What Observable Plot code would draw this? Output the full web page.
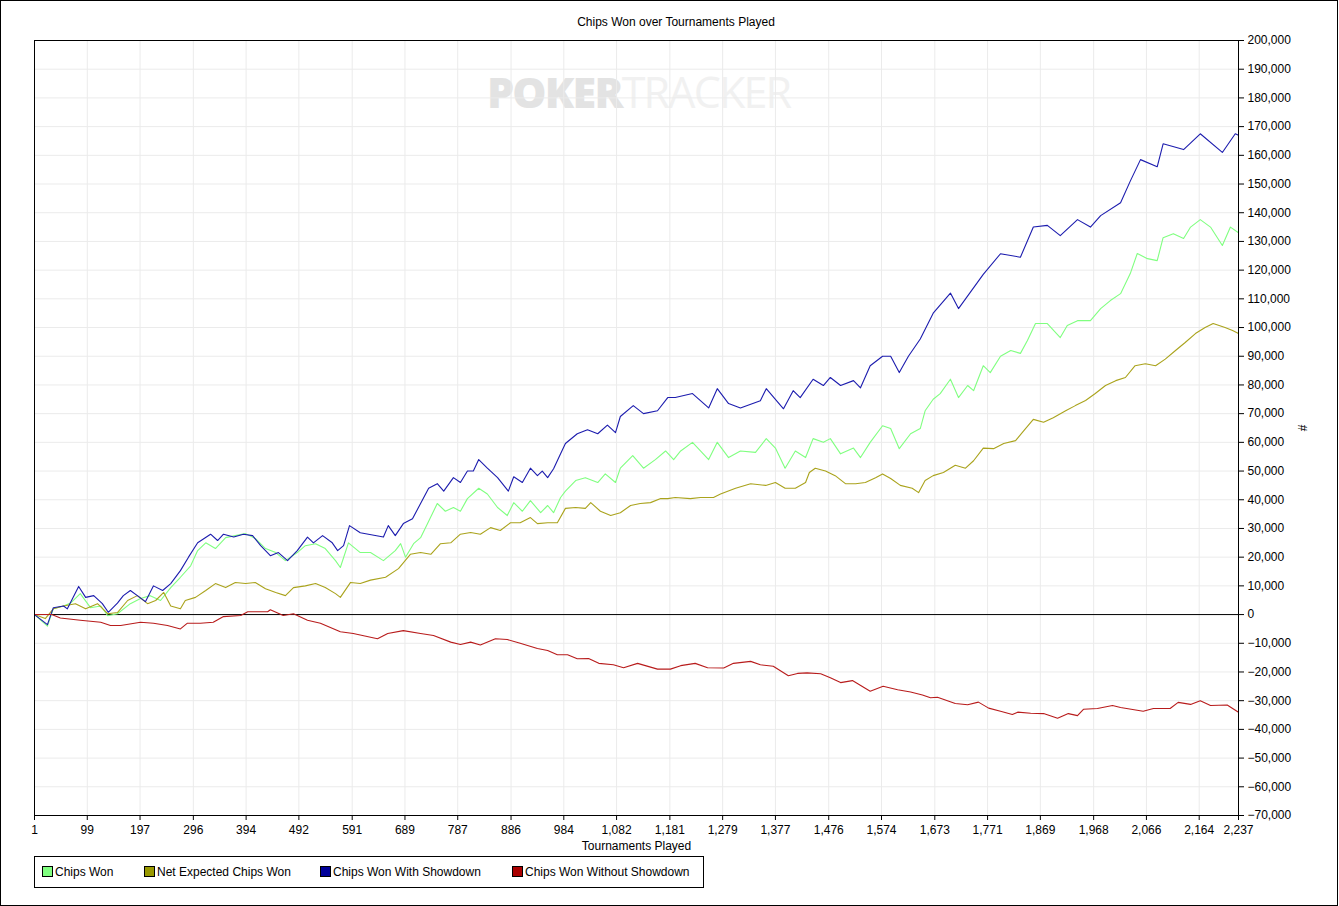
<!DOCTYPE html>
<html>
<head>
<meta charset="utf-8">
<script src="https://cdn.jsdelivr.net/npm/d3@7"></script>
<script src="https://cdn.jsdelivr.net/npm/@observablehq/plot@0.6"></script>
<style>
  html, body { margin: 0; padding: 0; background: #fff; }
  #wrap { position: relative; width: 1339px; height: 906px; font-family: "Liberation Sans", Arial, sans-serif; font-size: 12px; color: #000; overflow: hidden; }
  #border { position: absolute; left: 0; top: 0; width: 1338px; height: 906px; box-sizing: border-box; border: 1px solid #000; pointer-events: none; }
  #title { position: absolute; left: 0; top: 15px; width: 1352px; text-align: center; font-size: 12px; }
  #wm { position: absolute; left: 487px; top: 62px; font-family: "Open Sans", sans-serif; font-size: 43px; letter-spacing: -1.8px; white-space: nowrap; }
  #wm .a { font-weight: 800; color: #e3e3e3; }
  #wm .b { font-weight: 400; color: #f1f1f1; }
  #chart { position: absolute; left: 0; top: 0; }
  #chart svg { background: transparent !important; overflow: visible; }
  #legend { position: absolute; left: 34px; top: 856px; width: 670px; height: 32px; box-sizing: border-box; border: 1px solid #000; }
  .item { position: absolute; top: 8px; height: 14px; line-height: 14px; white-space: nowrap; }
  .sw { display: inline-block; width: 9px; height: 9px; border: 1px solid #000; vertical-align: -1px; margin-right: 2px; }
</style>
</head>
<body>
<div id="wrap">
  <div id="wm"><span class="a">POKER</span><span class="b">TRACKER</span></div>
  <div id="chart"></div>
  <div id="title">Chips Won over Tournaments Played</div>
  <div id="legend"></div>
  <div id="border"></div>
</div>
<script>
// ---- axis ticks ----
const xTicks = [1, 99, 197, 296, 394, 492, 591, 689, 787, 886, 984, 1082, 1181, 1279, 1377, 1476, 1574, 1673, 1771, 1869, 1968, 2066, 2164, 2237];
const yTicks = [-70000, -60000, -50000, -40000, -30000, -20000, -10000, 0, 10000, 20000, 30000, 40000, 50000, 60000, 70000, 80000, 90000, 100000, 110000, 120000, 130000, 140000, 150000, 160000, 170000, 180000, 190000, 200000];

// ---- series names & colours ----
const seriesNames = ["Chips Won", "Net Expected Chips Won", "Chips Won With Showdown", "Chips Won Without Showdown"];
const lineColors = ["#80ff80", "#aaa31c", "#1c1cae", "#b81c1c"];
const swatchColors = ["#80ff80", "#999900", "#000099", "#aa0000"];

// ---- Chips Won (green) ----
const greenT = [1, 25, 36, 55, 68, 86, 105, 124, 137, 155, 179, 198, 216, 235, 254, 272, 291, 304, 319, 337, 356, 374, 393, 411, 430, 449, 467, 489, 504, 523, 541, 560, 569, 584, 606, 625, 649, 671, 681, 690, 705, 718, 731, 749, 764, 779, 792, 805, 826, 842, 861, 879, 891, 907, 922, 941, 954, 965, 978, 987, 1006, 1024, 1047, 1061, 1080, 1089, 1112, 1132, 1154, 1173, 1188, 1201, 1223, 1253, 1269, 1290, 1312, 1340, 1360, 1377, 1395, 1414, 1433, 1447, 1466, 1479, 1498, 1522, 1535, 1553, 1576, 1591, 1607, 1628, 1646, 1655, 1670, 1683, 1702, 1717, 1734, 1745, 1763, 1776, 1795, 1814, 1832, 1845, 1860, 1882, 1906, 1919, 1938, 1962, 1981, 1999, 2018, 2036, 2049, 2068, 2086, 2097, 2116, 2135, 2148, 2166, 2185, 2207, 2222, 2237];
const greenV = [0, -4000, 2000, 3000, 4000, 7300, 2400, 3000, -400, 300, 3800, 5600, 6600, 4900, 9400, 13000, 17000, 22300, 25000, 23000, 26800, 27500, 28200, 26500, 23000, 21600, 18800, 21600, 24000, 24700, 23000, 18800, 16400, 25000, 21600, 21600, 18800, 22300, 24700, 20000, 24700, 26800, 31700, 38700, 36000, 37300, 36000, 40400, 44000, 42000, 37300, 34500, 39000, 36000, 39700, 35500, 38000, 35500, 40800, 43000, 46700, 47700, 46000, 49000, 46000, 51000, 55400, 51000, 54000, 57000, 54000, 57000, 60000, 54000, 60000, 54700, 57000, 56500, 61300, 58000, 51000, 57000, 54700, 61300, 60000, 61300, 56000, 58000, 54700, 60000, 65800, 64800, 57800, 63000, 64800, 71000, 75000, 77000, 82000, 75600, 79800, 78000, 86700, 84300, 90000, 92000, 91000, 95500, 101400, 101400, 96500, 100700, 102400, 102400, 106600, 109400, 111800, 118800, 125800, 124000, 123300, 131300, 132700, 131000, 135000, 137600, 135000, 128600, 135000, 133000];

// ---- Net Expected Chips Won (olive) ----
const oliveT = [1, 21, 36, 55, 77, 96, 118, 137, 155, 174, 192, 211, 226, 241, 254, 272, 281, 300, 319, 337, 356, 374, 393, 411, 430, 449, 467, 482, 504, 523, 541, 560, 569, 588, 606, 625, 653, 677, 699, 718, 737, 755, 774, 792, 811, 829, 848, 866, 885, 903, 922, 935, 954, 972, 987, 1006, 1024, 1034, 1052, 1071, 1089, 1108, 1126, 1145, 1164, 1177, 1191, 1219, 1238, 1262, 1275, 1303, 1331, 1359, 1377, 1395, 1414, 1433, 1440, 1451, 1470, 1488, 1507, 1526, 1544, 1563, 1576, 1591, 1609, 1631, 1643, 1655, 1670, 1689, 1711, 1730, 1745, 1763, 1782, 1801, 1823, 1838, 1856, 1875, 1893, 1916, 1934, 1953, 1971, 1990, 2009, 2027, 2045, 2064, 2083, 2101, 2120, 2138, 2157, 2175, 2190, 2212, 2226, 2237];
const oliveV = [0, -1400, 2000, 3000, 3800, 2000, 3800, 300, 700, 4900, 6600, 3800, 4900, 7700, 3000, 2000, 4900, 6000, 8400, 10800, 9400, 11200, 10800, 11200, 9000, 7700, 6600, 9400, 10000, 10800, 9400, 7300, 6000, 11200, 10800, 12000, 13000, 16000, 21000, 21600, 21000, 24700, 25000, 28000, 28600, 28000, 30300, 29300, 32000, 32000, 33800, 31700, 32000, 32000, 37000, 37300, 37000, 39000, 36000, 34500, 35500, 38000, 38700, 39000, 40400, 40400, 40800, 40400, 40800, 40800, 42000, 44000, 45600, 45000, 46000, 44000, 44000, 46000, 49500, 51000, 50000, 48400, 45600, 45600, 46000, 47700, 49000, 47400, 45000, 44000, 42500, 46700, 48400, 49500, 52000, 51000, 53600, 58000, 57800, 59600, 60600, 64000, 68000, 67000, 68600, 71000, 72800, 74600, 77000, 79800, 81500, 82600, 86700, 87400, 86700, 89000, 92000, 94800, 97900, 100000, 101400, 100000, 99000, 97900];

// ---- Chips Won With Showdown (blue) ----
const blueT = [1, 25, 36, 55, 62, 83, 96, 111, 127, 138, 155, 166, 179, 192, 207, 222, 239, 254, 272, 287, 304, 328, 341, 352, 371, 389, 406, 421, 439, 454, 471, 489, 508, 519, 536, 554, 564, 575, 586, 606, 649, 658, 671, 686, 703, 718, 733, 749, 761, 779, 792, 805, 816, 826, 842, 861, 881, 891, 907, 922, 935, 944, 954, 965, 978, 987, 1009, 1028, 1047, 1065, 1080, 1089, 1113, 1132, 1158, 1177, 1191, 1223, 1253, 1269, 1290, 1312, 1349, 1360, 1392, 1410, 1423, 1447, 1466, 1479, 1498, 1522, 1535, 1553, 1576, 1591, 1607, 1624, 1646, 1670, 1702, 1717, 1763, 1795, 1832, 1856, 1882, 1906, 1938, 1962, 1981, 2018, 2036, 2055, 2086, 2097, 2135, 2166, 2207, 2231, 2237];
const blueV = [0, -3500, 2400, 3000, 2000, 9800, 6000, 6600, 3800, 800, 4000, 6600, 8400, 6600, 4500, 10000, 8400, 10800, 15300, 20000, 25000, 28000, 25800, 28000, 27000, 28000, 27500, 24000, 20500, 21600, 18800, 22300, 27000, 25000, 27500, 25000, 22300, 24000, 31000, 28500, 27000, 31000, 27500, 31700, 33400, 38700, 44000, 45600, 43000, 47700, 46000, 50000, 50000, 54000, 51000, 47700, 43000, 48000, 46000, 51000, 48400, 50000, 47700, 50800, 56000, 59600, 63000, 64400, 63000, 66000, 63400, 69000, 72800, 70000, 71000, 75600, 75600, 77000, 72000, 78700, 73500, 72000, 74500, 78700, 71700, 78000, 75600, 82000, 79800, 82600, 79800, 81500, 79000, 86700, 90000, 90000, 84300, 90000, 96000, 105000, 112000, 106600, 118500, 125700, 124500, 135000, 135600, 132000, 137600, 135000, 139000, 143500, 151000, 158500, 156000, 164000, 162000, 167500, 161000, 167500, 167000];

// ---- Chips Won Without Showdown (red) ----
const redT = [1, 33, 49, 86, 124, 142, 161, 198, 222, 248, 272, 285, 309, 333, 352, 384, 397, 434, 439, 463, 482, 508, 532, 569, 593, 638, 657, 686, 718, 742, 774, 792, 811, 829, 857, 879, 903, 935, 954, 972, 991, 1009, 1030, 1049, 1076, 1095, 1121, 1158, 1182, 1201, 1228, 1251, 1281, 1299, 1331, 1349, 1373, 1401, 1418, 1436, 1461, 1479, 1498, 1520, 1553, 1577, 1604, 1628, 1650, 1665, 1678, 1711, 1734, 1754, 1773, 1795, 1817, 1827, 1851, 1875, 1901, 1921, 1938, 1949, 1975, 2003, 2018, 2060, 2079, 2110, 2125, 2148, 2166, 2185, 2216, 2237];
const redV = [0, 0, -1200, -2000, -2700, -3800, -3800, -2700, -3000, -3800, -5000, -3000, -3000, -2700, -700, -300, 1000, 1000, 1700, -300, 300, -2000, -3000, -6000, -6600, -8400, -6600, -5600, -6600, -7300, -9600, -10400, -9600, -10600, -8400, -8700, -10000, -11800, -12500, -14000, -14000, -15400, -15300, -17000, -17500, -18500, -17000, -19000, -19000, -17800, -17000, -18500, -18600, -17000, -16300, -17500, -18000, -21300, -20500, -20300, -20600, -22000, -23700, -23000, -26700, -25000, -26200, -27000, -28000, -29000, -28800, -31000, -31400, -30500, -32600, -33700, -34800, -34000, -34400, -34500, -36100, -34500, -35200, -33000, -32700, -31700, -32400, -33700, -32700, -32700, -30600, -31300, -30000, -31700, -31500, -34000];

const toRows = (ts, vs) => ts.map((t, i) => ({t, v: vs[i]}));
const seriesData = [toRows(greenT, greenV), toRows(oliveT, oliveV), toRows(blueT, blueV), toRows(redT, redV)];

const fmt = d3.format(",");

const chart = Plot.plot({
  width: 1339,
  height: 860,
  marginLeft: 34,
  marginRight: 101,
  marginTop: 40,
  marginBottom: 45,
  style: {fontFamily: "'Liberation Sans', Arial, sans-serif", fontSize: "12px", background: "transparent", color: "#000"},
  x: {domain: [1, 2237]},
  y: {domain: [-70000, 200000]},
  marks: [
    Plot.gridX(xTicks, {stroke: "#ebebeb", strokeOpacity: 1}),
    Plot.gridY(yTicks, {stroke: "#ebebeb", strokeOpacity: 1}),
    Plot.ruleY([0], {stroke: "#000", strokeWidth: 1}),
    ...seriesData.map((d, i) => Plot.line(d, {x: "t", y: "v", stroke: lineColors[i], strokeWidth: 1.1, strokeLinejoin: "round"})),
    Plot.frame({stroke: "#000"}),
    Plot.axisX({ticks: xTicks, tickFormat: fmt, tickSize: 5, tickPadding: 5, label: "Tournaments Played", labelAnchor: "center", labelArrow: "none", labelOffset: 34}),
    Plot.axisY({anchor: "right", ticks: yTicks, tickFormat: fmt, tickSize: 5, tickPadding: 4, label: "#", labelAnchor: "center", labelArrow: "none", labelOffset: 68})
  ]
});
document.getElementById("chart").appendChild(chart);

// legend
const legend = document.getElementById("legend");
const legendX = [7, 109, 285, 477];
seriesNames.forEach((name, i) => {
  const it = document.createElement("div");
  it.className = "item";
  it.style.left = legendX[i] + "px";
  const sw = document.createElement("span");
  sw.className = "sw";
  sw.style.background = swatchColors[i];
  it.appendChild(sw);
  it.appendChild(document.createTextNode(name));
  legend.appendChild(it);
});
</script>
</body>
</html>
